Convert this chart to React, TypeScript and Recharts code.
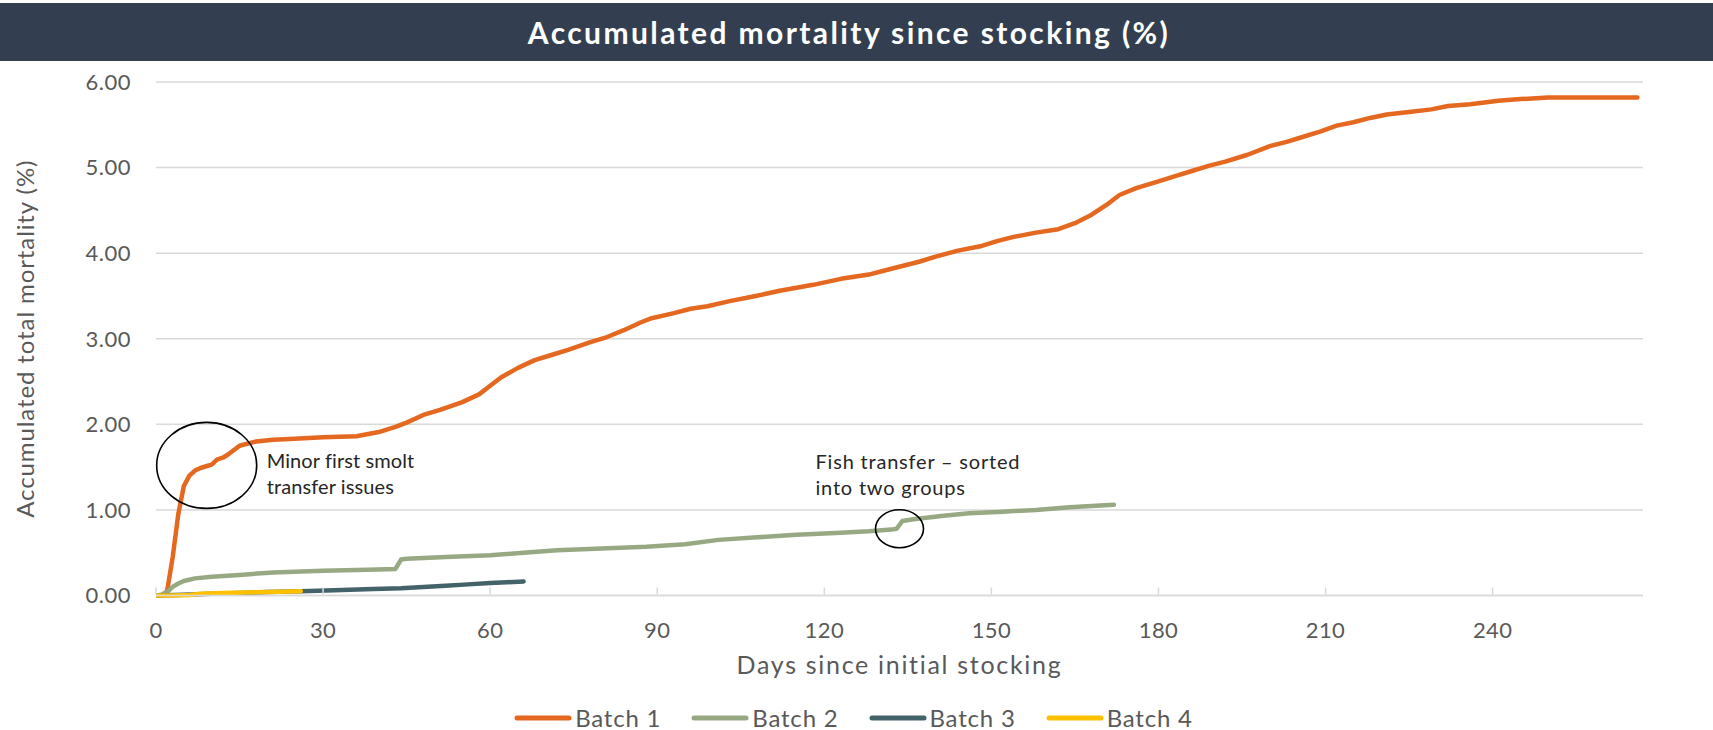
import { LineChart, Line, XAxis, YAxis, CartesianGrid, Legend, ReferenceDot } from "recharts";

const FONT = "Lato, 'Open Sans', sans-serif";
const GREY = "#595959";
const GRID = "#D9D9D9";

const TITLE = "Accumulated mortality since stocking (%)";
const Y_LABEL = "Accumulated total mortality (%)";
const X_LABEL = "Days since initial stocking";

const X_TICKS = [0, 30, 60, 90, 120, 150, 180, 210, 240];
const Y_TICKS = [0, 1, 2, 3, 4, 5, 6];

const BATCH1_DAYS = [0, 1, 2, 3, 4, 5, 6, 7, 8, 9, 10, 11, 12, 13, 15, 18, 21, 24, 30, 36, 40, 43, 45, 48, 51, 55, 58, 60, 62, 65, 68, 71, 74, 78, 81, 84, 87, 89, 93, 96, 99, 103, 107, 112, 118, 123, 128, 131, 134, 137, 140, 144, 148, 151, 154, 158, 162, 165, 168, 171, 173, 176, 180, 183, 186, 189, 192, 196, 200, 203, 206, 209, 212, 215, 218, 221, 225, 229, 232, 236, 241, 245, 250, 258, 266];
const BATCH1_PCT = [0, 0, 0.05, 0.45, 0.95, 1.28, 1.4, 1.46, 1.49, 1.51, 1.53, 1.59, 1.61, 1.65, 1.75, 1.8, 1.82, 1.83, 1.85, 1.86, 1.91, 1.97, 2.02, 2.11, 2.17, 2.26, 2.35, 2.45, 2.55, 2.66, 2.75, 2.81, 2.87, 2.96, 3.02, 3.1, 3.19, 3.24, 3.3, 3.35, 3.38, 3.44, 3.49, 3.56, 3.63, 3.7, 3.75, 3.8, 3.85, 3.9, 3.96, 4.03, 4.08, 4.14, 4.19, 4.24, 4.28, 4.35, 4.45, 4.58, 4.68, 4.76, 4.84, 4.9, 4.96, 5.02, 5.07, 5.15, 5.25, 5.3, 5.36, 5.42, 5.49, 5.53, 5.58, 5.62, 5.65, 5.68, 5.72, 5.74, 5.78, 5.8, 5.82, 5.82, 5.82];

const BATCH2_DAYS = [0, 1, 2, 3, 4, 5, 7, 10, 15, 21, 30, 38, 43, 44, 45, 52, 60, 66, 72, 80, 88, 95, 101, 108, 115, 122, 128, 132, 133, 134, 136, 141, 146, 152, 158, 164, 172];
const BATCH2_PCT = [0, 0.01, 0.04, 0.1, 0.14, 0.17, 0.2, 0.22, 0.24, 0.27, 0.29, 0.3, 0.31, 0.42, 0.43, 0.45, 0.47, 0.5, 0.53, 0.55, 0.57, 0.6, 0.65, 0.68, 0.71, 0.73, 0.75, 0.77, 0.78, 0.87, 0.89, 0.93, 0.96, 0.98, 1.0, 1.03, 1.06];

const BATCH3_DAYS = [0, 5, 10, 15, 20, 26, 32, 39, 44, 48, 52, 56, 60, 63, 66];
const BATCH3_PCT = [0, 0.01, 0.02, 0.03, 0.04, 0.05, 0.06, 0.075, 0.085, 0.1, 0.115, 0.13, 0.145, 0.155, 0.165];

const BATCH4_DAYS = [0, 3, 6, 8, 12, 16, 20, 26];
const BATCH4_PCT = [0, 0, 0.005, 0.02, 0.03, 0.035, 0.04, 0.05];

const zip = (days: number[], pct: number[]) => days.map((d, i) => ({ day: d, pct: pct[i] }));

const SERIES = [
  { name: "Batch 1", color: "#E4681F", data: zip(BATCH1_DAYS, BATCH1_PCT) },
  { name: "Batch 2", color: "#97A982", data: zip(BATCH2_DAYS, BATCH2_PCT) },
  { name: "Batch 3", color: "#44626A", data: zip(BATCH3_DAYS, BATCH3_PCT) },
  { name: "Batch 4", color: "#FFC000", data: zip(BATCH4_DAYS, BATCH4_PCT) },
];

// circled events: centre in data units, ellipse/text offsets in px
const NOTES = [
  { day: 9.1, pct: 1.52, rx: 50, ry: 43, dx: 60, dy: 3, spacing: 0.1, lines: ["Minor first smolt", "transfer issues"] },
  { day: 133.5, pct: 0.78, rx: 24, ry: 19, dx: -84, dy: -60, spacing: 0.8, lines: ["Fish transfer \u2013 sorted", "into two groups"] },
];

function XTick({ x, y, payload }: any) {
  return (
    <g>
      <line x1={x} x2={x} y1={y - 28} y2={y - 35} stroke={GRID} strokeWidth={1.5} />
      <text x={x} y={y} dy="0.71em" textAnchor="middle" fill={GREY} fontSize={22} letterSpacing={0.4} fontFamily={FONT}>
        {payload.value}
      </text>
    </g>
  );
}

function noteShape(note: (typeof NOTES)[number]) {
  return ({ cx, cy }: any) => (
    <g>
      <ellipse cx={cx} cy={cy} rx={note.rx} ry={note.ry} fill="none" stroke="#000" strokeWidth={1.6} />
      {note.lines.map((t, i) => (
        <text key={i} x={cx + note.dx} y={cy + note.dy + i * 26} fill="#262626" fontSize={20} letterSpacing={note.spacing} fontFamily={FONT}>
          {t}
        </text>
      ))}
    </g>
  );
}

function renderLegend() {
  return (
    <div style={{ display: "flex", justifyContent: "center", alignItems: "center", gap: 30, fontFamily: FONT, fontSize: 24, letterSpacing: 0.8, color: GREY, marginLeft: -6 }}>
      {SERIES.map((s) => (
        <div key={s.name} style={{ display: "flex", alignItems: "center", gap: 3 }}>
          <svg width={58} height={8}>
            <line x1={3} x2={55} y1={4} y2={4} stroke={s.color} strokeWidth={5} strokeLinecap="round" />
          </svg>
          <span>{s.name}</span>
        </div>
      ))}
    </div>
  );
}

export default function App() {
  return (
    <div style={{ position: "absolute", left: 0, top: 0, width: 1713, height: 730, background: "#fff" }}>
      <div
        style={{
          position: "absolute",
          left: 0,
          top: 3,
          width: 1713,
          height: 58,
          background: "#333F50",
          color: "#fff",
          fontFamily: FONT,
          fontWeight: 700,
          fontSize: 30,
          letterSpacing: 2.4,
          display: "flex",
          alignItems: "center",
          justifyContent: "center",
        }}
      >
        <span style={{ marginLeft: -15 }}>{TITLE}</span>
      </div>
      <LineChart width={1713} height={730} margin={{ top: 82, right: 70, bottom: 74.5, left: 0 }} style={{ position: "absolute", left: 0, top: 0 }}>
        <CartesianGrid vertical={false} stroke={GRID} strokeWidth={1.5} />
        <XAxis
          type="number"
          dataKey="day"
          domain={[0, 267]}
          ticks={X_TICKS}
          allowDataOverflow
          height={60}
          tickSize={0}
          tickMargin={27}
          tickLine={false}
          axisLine={{ stroke: GRID, strokeWidth: 1.5 }}
          tick={<XTick />}
          label={{
            content: ({ viewBox }: any) => (
              <text x={viewBox.x + viewBox.width / 2} y={viewBox.y + 68} textAnchor="middle" dominantBaseline="central" fill={GREY} fontSize={25} letterSpacing={1.7} fontFamily={FONT}>
                {X_LABEL}
              </text>
            ),
          }}
        />
        <YAxis
          type="number"
          domain={[0, 6]}
          ticks={Y_TICKS}
          width={156}
          tickSize={0}
          tickMargin={25}
          tickLine={false}
          axisLine={false}
          tickFormatter={(v: number) => v.toFixed(2)}
          tick={{ fill: GREY, fontSize: 22, fontFamily: FONT, letterSpacing: 0.5 }}
          label={{
            content: ({ viewBox }: any) => {
              const cx = viewBox.x + 24;
              const cy = viewBox.y + viewBox.height / 2;
              return (
                <text x={cx} y={cy} transform={`rotate(-90 ${cx} ${cy})`} textAnchor="middle" dominantBaseline="central" fill={GREY} fontSize={24} letterSpacing={0.9} fontFamily={FONT}>
                  {Y_LABEL}
                </text>
              );
            },
          }}
        />
        {SERIES.map((s) => (
          <Line
            key={s.name}
            data={s.data}
            dataKey="pct"
            name={s.name}
            type="linear"
            stroke={s.color}
            strokeWidth={4.5}
            strokeLinecap="round"
            strokeLinejoin="round"
            dot={false}
            activeDot={false}
            isAnimationActive={false}
          />
        ))}
        {NOTES.map((n, i) => (
          <ReferenceDot key={i} x={n.day} y={n.pct} r={1} shape={noteShape(n)} />
        ))}
        <Legend verticalAlign="middle" align="center" layout="horizontal" wrapperStyle={{ top: 703, left: 0, width: 1713 }} content={renderLegend} />
      </LineChart>
    </div>
  );
}
